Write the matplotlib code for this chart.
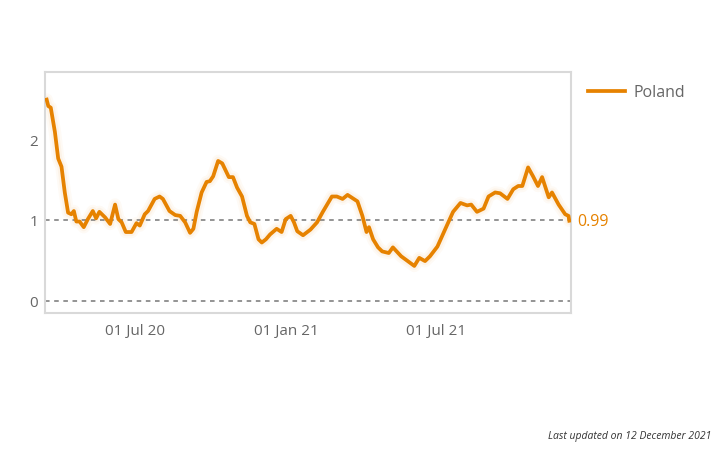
import numpy as np
import pandas as pd
import matplotlib
matplotlib.use("Agg")
import matplotlib.pyplot as plt
import matplotlib.dates as mdates

plt.rcParams['font.family'] = ['Open Sans', 'DejaVu Sans']

country = "Poland"
dates = [
    "2020-03-16", "2020-03-18", "2020-03-21", "2020-03-26", "2020-03-30", "2020-04-03",
    "2020-04-07", "2020-04-11", "2020-04-15", "2020-04-18", "2020-04-21", "2020-04-25",
    "2020-04-30", "2020-05-05", "2020-05-11", "2020-05-15", "2020-05-19", "2020-05-26",
    "2020-06-01", "2020-06-07", "2020-06-11", "2020-06-15", "2020-06-20", "2020-06-27",
    "2020-07-03", "2020-07-07", "2020-07-13", "2020-07-17", "2020-07-25", "2020-07-31",
    "2020-08-04", "2020-08-12", "2020-08-19", "2020-08-25", "2020-08-31", "2020-09-06",
    "2020-09-10", "2020-09-14", "2020-09-20", "2020-09-26", "2020-09-30", "2020-10-04",
    "2020-10-10", "2020-10-15", "2020-10-23", "2020-10-28", "2020-11-02", "2020-11-08",
    "2020-11-14", "2020-11-18", "2020-11-23", "2020-11-28", "2020-12-02", "2020-12-07",
    "2020-12-12", "2020-12-20", "2020-12-26", "2020-12-31", "2021-01-06", "2021-01-10",
    "2021-01-14", "2021-01-21", "2021-01-30", "2021-02-07", "2021-02-14", "2021-02-25",
    "2021-03-03", "2021-03-10", "2021-03-16", "2021-03-19", "2021-03-28", "2021-04-03",
    "2021-04-08", "2021-04-11", "2021-04-16", "2021-04-22", "2021-04-27", "2021-05-05",
    "2021-05-10", "2021-05-20", "2021-06-05", "2021-06-11", "2021-06-18", "2021-06-24",
    "2021-07-03", "2021-07-14", "2021-07-22", "2021-07-31", "2021-08-08", "2021-08-13",
    "2021-08-20", "2021-08-28", "2021-09-03", "2021-09-11", "2021-09-17", "2021-09-26",
    "2021-10-03", "2021-10-09", "2021-10-14", "2021-10-21", "2021-10-27", "2021-11-02",
    "2021-11-07", "2021-11-15", "2021-11-19", "2021-11-27", "2021-12-05", "2021-12-09",
    "2021-12-10",
]
rt = [
    2.49, 2.41, 2.39, 2.09, 1.76, 1.66,
    1.34, 1.09, 1.07, 1.11, 0.98, 0.98,
    0.91, 1.01, 1.11, 1.02, 1.10, 1.03,
    0.95, 1.19, 1.01, 0.97, 0.85, 0.85,
    0.96, 0.93, 1.07, 1.11, 1.26, 1.29,
    1.26, 1.11, 1.06, 1.05, 0.97, 0.84,
    0.89, 1.10, 1.34, 1.47, 1.48, 1.54,
    1.73, 1.70, 1.53, 1.53, 1.40, 1.29,
    1.05, 0.97, 0.95, 0.76, 0.72, 0.76,
    0.82, 0.89, 0.85, 1.01, 1.05, 0.97,
    0.86, 0.81, 0.88, 0.97, 1.10, 1.29,
    1.29, 1.26, 1.31, 1.29, 1.23, 1.05,
    0.85, 0.91, 0.76, 0.66, 0.61, 0.59,
    0.66, 0.55, 0.43, 0.53, 0.49, 0.55,
    0.67, 0.92, 1.10, 1.21, 1.18, 1.19,
    1.10, 1.14, 1.29, 1.34, 1.33, 1.26,
    1.38, 1.42, 1.42, 1.65, 1.54, 1.42,
    1.53, 1.28, 1.34, 1.19, 1.07, 1.05,
    0.99,
]
yticks = [0, 1, 2]
xticks = ["2020-07-01", "2021-01-01", "2021-07-01"]
last_label = "0.99"
updated = "Last updated on 12 December 2021"

orange = "#e68200"
grey = "#666666"

x = pd.to_datetime(dates)

fig = plt.figure(figsize=(7.2, 4.6), dpi=100)
ax = fig.add_axes([0.0625, 0.317, 0.7305, 0.524])

# faint glow around the line
ax.plot(x, rt, color=orange, lw=9, alpha=0.04, solid_capstyle="round")
ax.plot(x, rt, color=orange, lw=6, alpha=0.05, solid_capstyle="round")
ax.plot(x, rt, color=orange, lw=2.7, solid_joinstyle="round", label=country, zorder=3)

for v in [0, 1]:
    ax.axhline(v, color="#777777", lw=1.1, ls=(0, (3, 3)), zorder=2)

ax.set_xlim(pd.Timestamp("2020-03-14"), pd.Timestamp("2021-12-12"))
ax.set_ylim(-0.155, 2.83)
ax.set_yticks(yticks)
ax.set_xticks(pd.to_datetime(xticks))
ax.xaxis.set_major_formatter(mdates.DateFormatter("%d %b %y"))
ax.tick_params(length=0, labelsize=11, colors=grey, pad=7)
ax.tick_params(axis="y", pad=5)
for s in ax.spines.values():
    s.set_color("#d9d9d9")
    s.set_linewidth(1.5)

ax.annotate(last_label, xy=(x[-1], rt[-1]), xytext=(6, 0), textcoords="offset points",
            va="center", ha="left", color=orange, fontsize=11.5)

ax.legend(loc="upper left", bbox_to_anchor=(1.006, 1.01), frameon=False,
          handlelength=2.3, handletextpad=0.5, fontsize=11.5, labelcolor=grey)

fig.text(0.988, 0.05, updated, ha="right", va="center", style="italic",
         fontsize=7.5, color="#333333")

fig.savefig("out.png", dpi=100)
